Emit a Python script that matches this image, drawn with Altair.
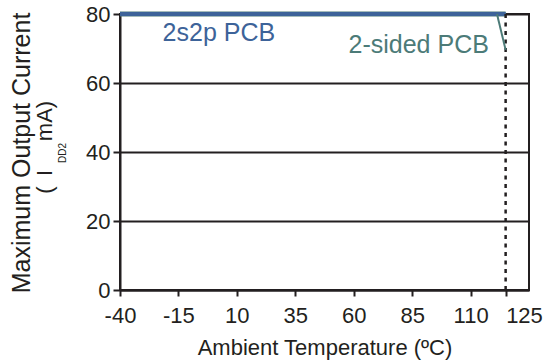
import altair as alt
import pandas as pd

# ---- data ----
temps = [-40, 125]
current_2s2p = [80, 80]
current_2sided = [80, 80]
x_ticks = [-40, -15, 10, 35, 60, 85, 110, 125]
y_ticks = [0, 20, 40, 60, 80]
derate_temp = [125, 125]
derate_current = [0, 80]
leader_temp = [121.3, 125]
leader_current = [80, 69.6]
ann_labels = ["2s2p PCB", "2-sided PCB"]
ann_temp = [2.3, 87.8]
ann_current = [74.5, 71.0]
ann_colors = ["#3d6399", "#4c7b78"]

BLUE = "#3d6399"
TEAL = "#4c7b78"
INK = "#231f20"
FONT = "Liberation Sans"

xs = alt.Scale(domain=[-40, 135], nice=False, zero=False)
ys = alt.Scale(domain=[0, 80], nice=False, zero=False)

line_df = pd.DataFrame({"t": temps, "a": current_2s2p, "b": current_2sided})
derate_df = pd.DataFrame({"t": derate_temp, "c": derate_current})
leader_df = pd.DataFrame({"t": leader_temp, "c": leader_current})
ann_df = pd.DataFrame({"label": ann_labels, "t": ann_temp, "c": ann_current, "col": ann_colors})

x_axis = alt.Axis(
    values=x_ticks, title="Ambient Temperature (ºC)", grid=False,
    labelExpr="'' + datum.value",
    labelFontSize=22, labelFont=FONT, labelColor=INK, labelPadding=9,
    labelAlign={"condition": {"test": "datum.value == 125", "value": "left"}, "value": "center"},
    labelOverlap=False, labelFlush=False,
    tickSize=6, tickColor=INK, tickWidth=2,
    domainColor=INK, domainWidth=2,
    titleFontSize=22, titleFont=FONT, titleFontWeight="normal", titleColor=INK, titlePadding=11,
)
y_axis = alt.Axis(
    values=y_ticks, title=None, grid=True, gridColor=INK, gridWidth=2, gridOpacity=1,
    labelFontSize=22, labelFont=FONT, labelColor=INK, labelPadding=3,
    tickSize=7, tickColor=INK, tickWidth=2,
    domainColor=INK, domainWidth=2,
)

base = alt.Chart(line_df)

axes_layer = base.mark_line(opacity=0).encode(
    x=alt.X("t:Q", scale=xs, axis=x_axis),
    y=alt.Y("a:Q", scale=ys, axis=y_axis),
)

teal_line = base.mark_line(color=TEAL, strokeWidth=5).encode(
    x=alt.X("t:Q", scale=xs), y=alt.Y("b:Q", scale=ys)
)
blue_line = base.mark_line(color=BLUE, strokeWidth=4).encode(
    x=alt.X("t:Q", scale=xs), y=alt.Y("a:Q", scale=ys)
)

derate = alt.Chart(derate_df).mark_line(color=INK, strokeWidth=2.5, strokeDash=[4, 4.5]).encode(
    x=alt.X("t:Q", scale=xs), y=alt.Y("c:Q", scale=ys)
)

leader = alt.Chart(leader_df).mark_line(color=TEAL, strokeWidth=2).encode(
    x=alt.X("t:Q", scale=xs), y=alt.Y("c:Q", scale=ys)
)

ann = alt.Chart(ann_df).mark_text(font=FONT, fontSize=25, align="center", baseline="middle").encode(
    x=alt.X("t:Q", scale=xs), y=alt.Y("c:Q", scale=ys),
    text="label:N", color=alt.Color("col:N", scale=None),
)

ytitle_df = pd.DataFrame({"d": [0]})
yt = alt.Chart(ytitle_df)


def ytext(txt, x, y, size):
    return yt.mark_text(text=txt, font=FONT, fontSize=size, angle=270,
                        align="center", baseline="middle", color=INK).encode(
        x=alt.value(x), y=alt.value(y))


ytitle1 = ytext("Maximum Output Current", -98, 139, 25)
ytitle2a = ytext("(", -75, 176, 22)
ytitle2b = ytext("I", -75, 159, 22)
ytitle2c = ytext("DD2", -57, 139, 10)
ytitle2d = ytext("mA)", -75, 107, 22)

chart = alt.layer(
    axes_layer, teal_line, blue_line, derate, leader, ann,
    ytitle1, ytitle2a, ytitle2b, ytitle2c, ytitle2d,
).properties(
    width=409, height=276,
    autosize=alt.AutoSizeParams(type="none"),
    padding={"left": 120, "top": 14, "right": 15, "bottom": 74},
    background="white",
).configure_view(
    stroke=INK, strokeWidth=2
)

chart.save("out.html", embed_options={"renderer": "svg", "actions": False})
